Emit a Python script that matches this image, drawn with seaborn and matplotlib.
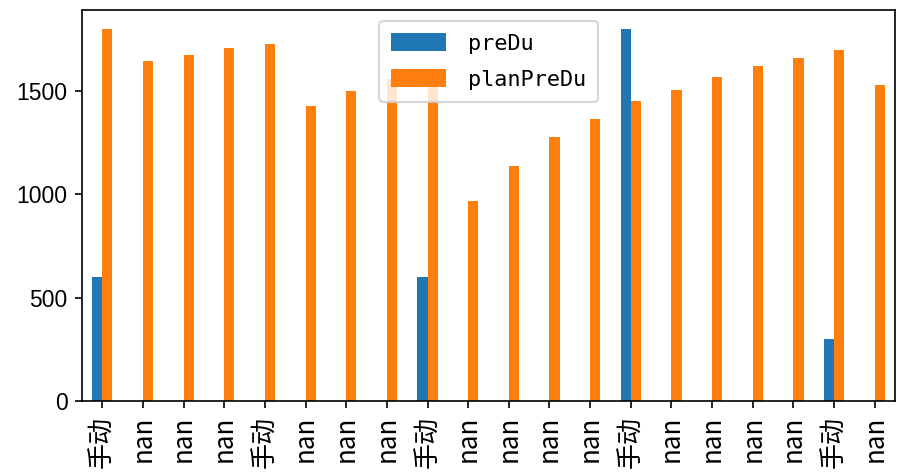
import numpy as np
import pandas as pd
import matplotlib.pyplot as plt
import seaborn as sns
from matplotlib.patches import Patch

plt.rcParams["font.family"] = ["Liberation Sans", "Noto Sans CJK SC", "DejaVu Sans"]

# category labels on the x axis (one per bar group)
tick_labels = ["手动", "nan", "nan", "nan", "手动", "nan", "nan", "nan",
               "手动", "nan", "nan", "nan", "nan", "手动", "nan", "nan",
               "nan", "nan", "手动", "nan"]
series_names = ["preDu", "planPreDu"]
series_colors = ["#1f77b4", "#ff7f0e"]

nan = np.nan
pre_du = [600, nan, nan, nan, nan, nan, nan, nan, 600, nan,
          nan, nan, nan, 1800, nan, nan, nan, nan, 300, nan]
plan_pre_du = [1800, 1645, 1673, 1707, 1725, 1427, 1500, 1555, 1558, 968,
               1137, 1277, 1363, 1451, 1505, 1566, 1620, 1658, 1697, 1528]

df = pd.DataFrame({"idx": range(len(tick_labels)),
                   "preDu": pre_du,
                   "planPreDu": plan_pre_du})
long_df = df.melt(id_vars="idx", var_name="series", value_name="value").dropna()

fig = plt.figure(figsize=(8.97 / 1.5, 4.75 / 1.5), dpi=150)
ax = fig.add_axes([0.0914, 0.1558, 0.9064, 0.8232])

sns.barplot(data=long_df, x="idx", y="value", hue="series",
            order=list(range(len(tick_labels))), hue_order=series_names,
            palette=series_colors, width=0.5, errorbar=None,
            saturation=1, ax=ax)

ax.set_xlim(-0.5, len(tick_labels) - 0.5)
ax.set_ylim(0, 1890)
ax.set_yticks([0, 500, 1000, 1500])
ax.tick_params(axis="y", labelsize=11)
ax.set_xticks(range(len(tick_labels)))
ax.set_xticklabels(tick_labels, rotation=90, fontsize=12.5,
                   family=["Noto Sans CJK SC", "DejaVu Sans"])
ax.set_xlabel("")
ax.set_ylabel("")

# legend: wider/taller handles to match the SimHei-style original
handles = [Patch(facecolor=c) for c in series_colors]
ax.legend(handles, series_names, loc="upper center",
          prop={"family": "DejaVu Sans Mono", "size": 10.5},
          handlelength=2.5, handleheight=0.9, labelspacing=0.7,
          borderpad=0.55, handletextpad=1.0)

fig.savefig("out.png", dpi=150)
